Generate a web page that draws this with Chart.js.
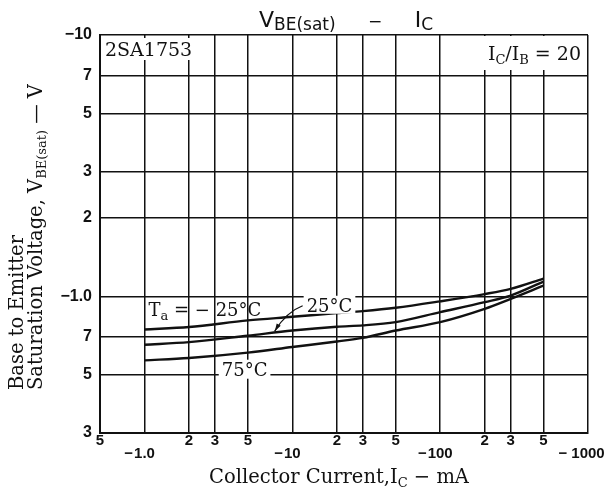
<!DOCTYPE html>
<html>
<head>
<meta charset="utf-8">
<script src="https://cdn.jsdelivr.net/npm/chart.js@4.4.1/dist/chart.umd.min.js"></script>
<style>
  body { margin: 0; background: #fff; }
</style>
</head>
<body>
<canvas id="chart" width="605" height="492"></canvas>
<script>
// collector current, mA (plotted as magnitude, labelled negative)
const currents = [1, 2, 5, 10, 20, 30, 50, 100, 200, 300, 500];
// base-emitter saturation voltage, V (magnitude)
const vbeMinus25 = [0.747, 0.763, 0.809, 0.835, 0.863, 0.878, 0.904, 0.957, 1.02, 1.068, 1.17];
const vbe25 = [0.653, 0.668, 0.707, 0.74, 0.765, 0.774, 0.797, 0.87, 0.95, 1.007, 1.139];
const vbe75 = [0.569, 0.581, 0.609, 0.64, 0.672, 0.694, 0.74, 0.797, 0.896, 0.978, 1.099];

const xTicks = [0.5, 1, 2, 3, 5, 10, 20, 30, 50, 100, 200, 300, 500, 1000];
const xTickLabels = ['5', '−1.0', '2', '3', '5', '−10', '2', '3', '5', '−100', '2', '3', '5', '− 1000'];
const xDecades = [1, 10, 100, 1000];
const yTicks = [0.3, 0.5, 0.7, 1, 2, 3, 5, 7, 10];
const yTickLabels = ['3', '5', '7', '−1.0', '2', '3', '5', '7', '−10'];

const INK = '#111';
const SERIF = '"DejaVu Serif"';
const SANS = '"DejaVu Sans"';

function pts(vals) {
    return currents.map((c, i) => ({ x: c, y: vals[i] }));
}

// draws a row of text runs (for subscripts), returns width
function runs(ctx, parts, x, y, align, bg) {
    let total = 0;
    parts.forEach(p => { ctx.font = p.font; p.w = ctx.measureText(p.t).width; total += p.w; });
    let cx = align === 'center' ? x - total / 2 : align === 'right' ? x - total : x;
    if (bg) {
        ctx.fillStyle = '#fff';
        ctx.fillRect(cx - bg[0], y - bg[1], total + bg[0] * 2, bg[1] + bg[2]);
    }
    ctx.fillStyle = INK;
    ctx.textAlign = 'left';
    ctx.textBaseline = 'alphabetic';
    parts.forEach(p => {
        ctx.font = p.font;
        ctx.fillText(p.t, cx, y + (p.dy || 0));
        cx += p.w;
    });
    return total;
}

const decor = {
    id: 'decor',
    afterDraw(chart) {
        const { ctx, chartArea: a, scales: { x, y } } = chart;
        ctx.save();

        // x tick labels: minor digits on first row, decades lower
        ctx.fillStyle = INK;
        ctx.font = 'bold 15px "Liberation Sans"';
        ctx.textBaseline = 'middle';
        xTicks.forEach((v, i) => {
            const px = x.getPixelForValue(v);
            const lab = xTickLabels[i];
            if (!xDecades.includes(v)) {
                ctx.textAlign = 'center';
                ctx.fillText(lab, px, a.bottom + 8);
                return;
            }
            const num = lab.replace(/^−\s*/, '');
            const w = ctx.measureText(num).width;
            ctx.textAlign = 'center';
            ctx.fillText(num, px, a.bottom + 21);
            ctx.textAlign = 'right';
            ctx.fillText('−', px - w / 2 - (lab.includes(' ') ? 4 : 1), a.bottom + 21);
        });

        // title
        const mid = (a.left + a.right) / 2;
        runs(ctx, [
            { t: 'V', font: `22px ${SANS}` },
            { t: 'BE(sat)', font: `17px ${SANS}`, dy: 3 },
            { t: '      −      ', font: `17px ${SANS}` },
            { t: 'I', font: `22px ${SANS}` },
            { t: 'C', font: `17px ${SANS}`, dy: 3 }
        ], mid + 2, 27, 'center');

        // x axis title
        runs(ctx, [
            { t: 'Collector Current,I', font: `19.5px ${SERIF}` },
            { t: 'C', font: `13px ${SERIF}`, dy: 4 },
            { t: ' − mA', font: `19.5px ${SERIF}` }
        ], mid - 5, a.bottom + 50, 'center');

        // y axis title, rotated
        ctx.save();
        ctx.translate(23, 390);
        ctx.rotate(-Math.PI / 2);
        runs(ctx, [{ t: 'Base to Emitter', font: `19.5px ${SERIF}` }], 0, 0, 'left');
        ctx.restore();
        ctx.save();
        ctx.translate(42, 390);
        ctx.rotate(-Math.PI / 2);
        runs(ctx, [
            { t: 'Saturation Voltage, V', font: `19.5px ${SERIF}` },
            { t: 'BE(sat)', font: `13px ${SERIF}`, dy: 4 },
            { t: ' — V', font: `19.5px ${SERIF}` }
        ], 0, 0, 'left');
        ctx.restore();

        // corner notes
        runs(ctx, [{ t: '2SA1753', font: `19px ${SERIF}` }], a.left + 5, a.top + 21, 'left', [3, 18, 4]);
        runs(ctx, [
            { t: 'I', font: `19px ${SERIF}` },
            { t: 'C', font: `13px ${SERIF}`, dy: 4 },
            { t: '/I', font: `19px ${SERIF}` },
            { t: 'B', font: `13px ${SERIF}`, dy: 4 },
            { t: ' = 20', font: `19px ${SERIF}` }
        ], a.right - 7, a.top + 25, 'right', [5, 24, 10]);

        // curve labels, anchored in data coordinates
        runs(ctx, [
            { t: 'T', font: `18px ${SERIF}` },
            { t: 'a', font: `13px ${SERIF}`, dy: 4 },
            { t: ' = − 25°C', font: `18px ${SERIF}` }
        ], x.getPixelForValue(1.065), y.getPixelForValue(0.843), 'left');

        const l25x = x.getPixelForValue(12.5), l25y = y.getPixelForValue(0.873);
        runs(ctx, [{ t: '25°C', font: `18px ${SERIF}` }], l25x, l25y, 'left', [3, 16, 2]);
        runs(ctx, [{ t: '75°C', font: `18px ${SERIF}` }], x.getPixelForValue(3.33), y.getPixelForValue(0.497), 'left', [3, 16, 3]);

        // leader arrow from 25°C label to its curve
        const tipX = x.getPixelForValue(7.6), tipY = y.getPixelForValue(0.736);
        const sx = l25x - 4, sy = l25y - 6;
        const cx = sx - 16, cy = sy + 6;
        ctx.strokeStyle = INK;
        ctx.lineWidth = 1.3;
        ctx.beginPath();
        ctx.moveTo(sx, sy);
        ctx.quadraticCurveTo(cx, cy, tipX, tipY);
        ctx.stroke();
        const ang = Math.atan2(tipY - cy, tipX - cx);
        ctx.fillStyle = INK;
        ctx.beginPath();
        ctx.moveTo(tipX, tipY);
        ctx.lineTo(tipX - 8 * Math.cos(ang - 0.3), tipY - 8 * Math.sin(ang - 0.3));
        ctx.lineTo(tipX - 8 * Math.cos(ang + 0.3), tipY - 8 * Math.sin(ang + 0.3));
        ctx.closePath();
        ctx.fill();

        ctx.restore();
    }
};

const gridStyle = { color: INK, lineWidth: 1.5, drawTicks: false };
const borderStyle = { color: INK, width: 2 };

new Chart(document.getElementById('chart'), {
    type: 'line',
    data: {
        datasets: [
            { label: 'Ta = −25°C', data: pts(vbeMinus25) },
            { label: '25°C', data: pts(vbe25) },
            { label: '75°C', data: pts(vbe75) }
        ]
    },
    options: {
        responsive: false,
        animation: false,
        layout: { padding: { left: 0, right: 17, top: 35, bottom: 0 } },
        plugins: { legend: { display: false }, tooltip: { enabled: false } },
        elements: {
            point: { radius: 0 },
            line: { borderColor: INK, borderWidth: 2.4, cubicInterpolationMode: 'monotone', fill: false }
        },
        scales: {
            x: {
                type: 'logarithmic',
                min: 0.5,
                max: 1000,
                afterBuildTicks: s => { s.ticks = xTicks.map(v => ({ value: v })); },
                afterFit: s => { s.height = 59; },
                ticks: { display: false },
                grid: gridStyle,
                border: borderStyle
            },
            y: {
                type: 'logarithmic',
                min: 0.3,
                max: 10,
                afterBuildTicks: s => { s.ticks = yTicks.map(v => ({ value: v })); },
                afterFit: s => { s.width = 100; },
                ticks: {
                    autoSkip: false,
                    padding: 8,
                    color: INK,
                    font: { family: 'Liberation Sans', size: 16, weight: 'bold' },
                    callback: v => yTickLabels[yTicks.indexOf(v)]
                },
                grid: gridStyle,
                border: borderStyle
            }
        }
    },
    plugins: [decor]
});
</script>
</body>
</html>
